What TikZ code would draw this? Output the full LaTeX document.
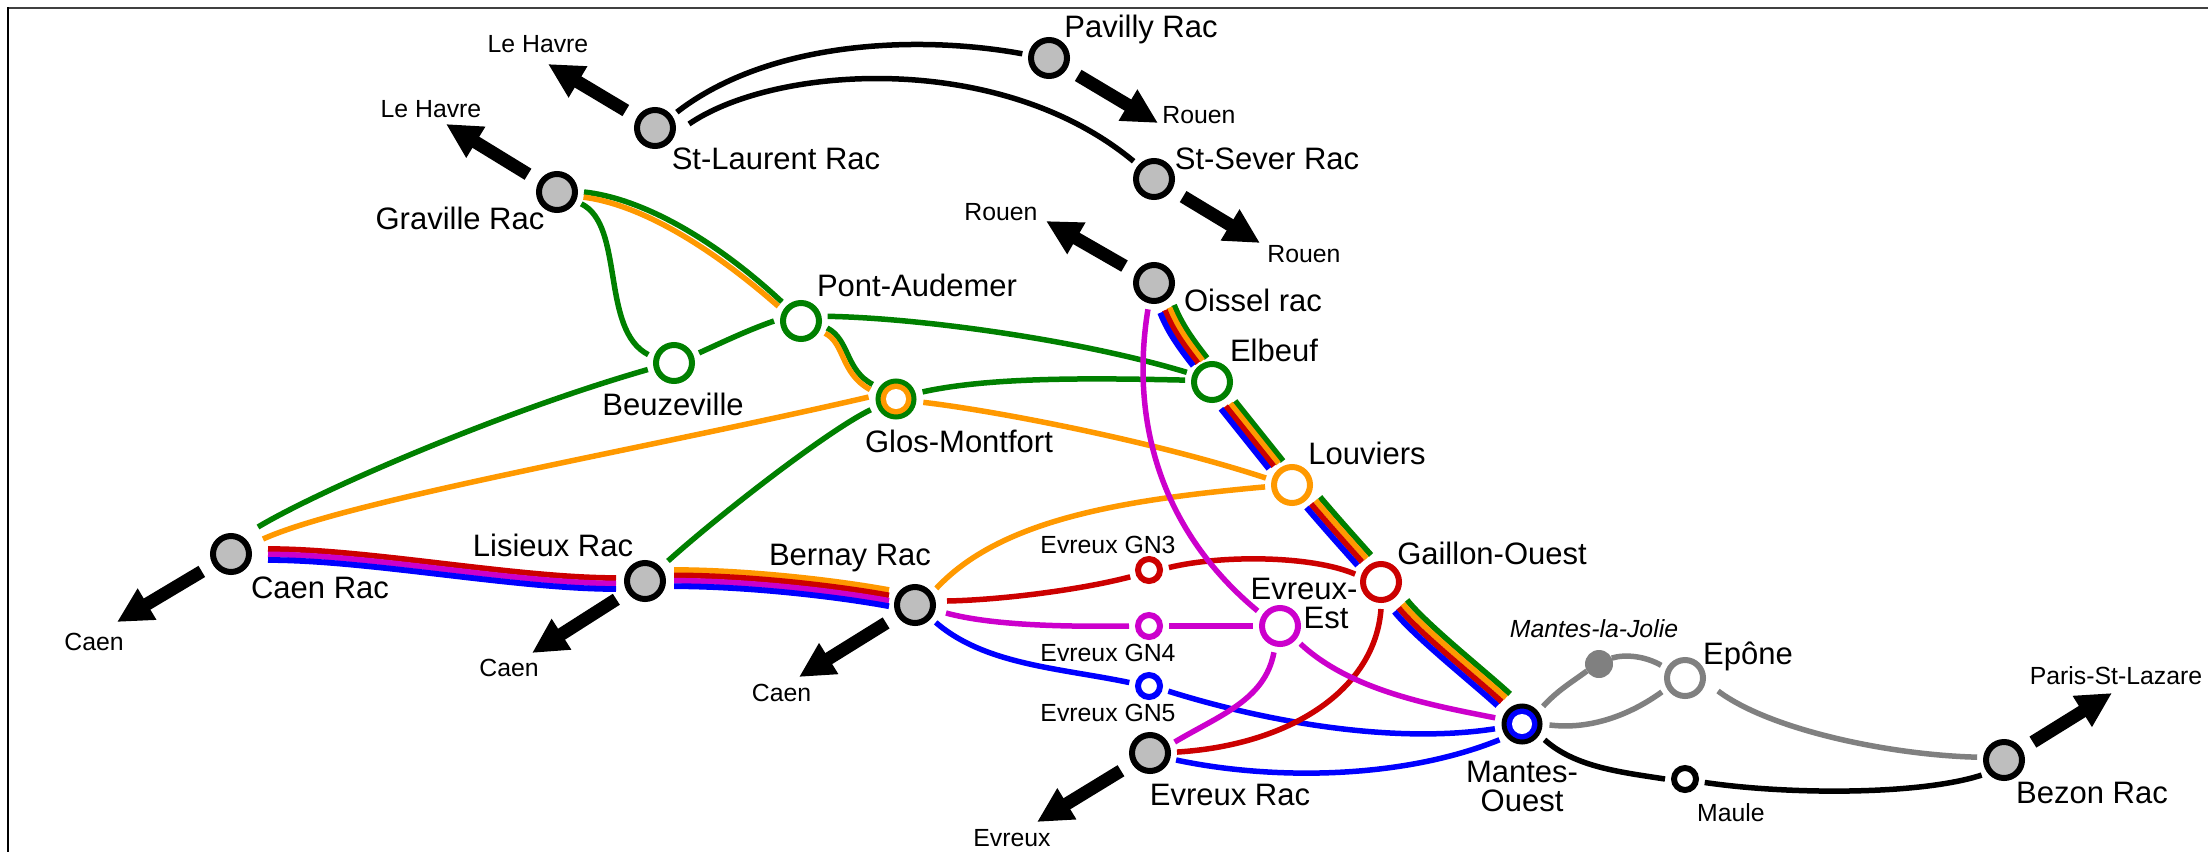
\documentclass[tikz,border=0pt]{standalone}
\usepackage{fontspec}
\setmainfont{Liberation Sans}
\usetikzlibrary{arrows.meta}
\definecolor{lgreen}{HTML}{008000}
\definecolor{lorange}{HTML}{FF9900}
\definecolor{lred}{HTML}{CC0000}
\definecolor{lmag}{HTML}{CC00CC}
\definecolor{lblue}{HTML}{0000FF}
\definecolor{lgray}{HTML}{808080}
\definecolor{stnfill}{HTML}{BEBEBE}
\tikzset{
  base/.style={circle,inner sep=0pt,outer sep=9pt,line width=6pt,minimum size=36pt,draw=#1,fill=white},
  racc/.style={base=black,fill=stnfill},
  ring/.style={base=#1},
  small/.style={base=#1,minimum size=22pt},
  inner/.style 2 args={base=#1,fill=#2,line width=5pt,minimum size=36pt,outer sep=9.5pt,
    path picture={\fill[white] (path picture bounding box.center) circle (10pt);}},
  joint/.style={circle,inner sep=0pt,outer sep=0pt,minimum size=28pt,fill=lgray},
  ln/.style={line width=5.5pt,#1,line cap=butt},
  bd/.style={line width=5.8pt,#1,line cap=butt},
  exit/.style={line width=13pt,black,shorten <=7pt,-{Triangle[length=35pt,width=34pt]}},
  big/.style={inner sep=0pt,font=\fontsize{31}{31}\selectfont,text height=25pt,text depth=6pt},
  lab/.style={inner sep=0pt,font=\fontsize{24.8}{24.8}\selectfont,text height=21pt,text depth=5pt},
}
\begin{document}
\begin{tikzpicture}[x=1pt,y=-1pt]
\useasboundingbox (0,0) rectangle (2208,852);
\fill[white] (0,0) rectangle (2208,852);
\draw[line width=2pt,black!75] (7,7.5) -- (2208,7.5);
\draw[line width=2pt,black] (8,7) -- (8,852);
% stations
\node[racc] (stl) at (655,128) {};
\node[racc] (gra) at (557,192) {};
\node[racc] (pav) at (1049,58) {};
\node[racc] (sts) at (1154,179) {};
\node[racc] (ois) at (1154,283) {};
\node[racc] (cae) at (231,554) {};
\node[racc] (lis) at (645,581) {};
\node[racc] (ber) at (915,605) {};
\node[racc] (evr) at (1150,753) {};
\node[racc] (bez) at (2004,760) {};
\node[ring=lgreen] (beu) at (674,363) {};
\node[ring=lgreen] (pon) at (801,321) {};
\node[ring=lgreen] (elb) at (1212,382) {};
\node[ring=lorange] (lou) at (1292,485) {};
\node[ring=lred] (gai) at (1381,582) {};
\node[ring=lmag] (ees) at (1280,626) {};
\node[ring=lgray] (epo) at (1685,678) {};
\node[small=lred] (gn3) at (1149,570) {};
\node[small=lmag] (gn4) at (1149,626) {};
\node[small=lblue] (gn5) at (1149,686) {};
\node[small=black] (mau) at (1685,779) {};
\node[inner={lgreen}{lorange}] (glo) at (896,399) {};
\node[inner={black}{lblue}] (man) at (1522,724) {};
\node[joint] (jol) at (1599,664) {};
% exits
\coordinate (t1) at (548,64);
\coordinate (t2) at (446,124);
\coordinate (t3) at (1158,123);
\coordinate (t4) at (1260,243);
\coordinate (t5) at (1046,221);
\coordinate (t6) at (117,622);
\coordinate (t7) at (532,653);
\coordinate (t8) at (799,677);
\coordinate (t9) at (1037,822);
\coordinate (t10) at (2112,693);
\draw[exit] (stl) -- (t1);
\draw[exit] (gra) -- (t2);
\draw[exit] (pav) -- (t3);
\draw[exit] (sts) -- (t4);
\draw[exit] (ois) -- (t5);
\draw[exit] (cae) -- (t6);
\draw[exit] (lis) -- (t7);
\draw[exit] (ber) -- (t8);
\draw[exit] (evr) -- (t9);
\draw[exit] (bez) -- (t10);
% black arcs
\draw[ln=black] (stl.36) .. controls (770,40) and (920,35) .. (pav.171);
\draw[ln=black] ([shift={(34,-4)}]stl.center) .. controls (775,65) and (1000,50) .. (sts.139);
% green & orange west
\draw[ln=lgreen] (gra.0) .. controls (640,198) and (712,237) .. (pon.135);
\draw[ln=lorange] (gra.-11) .. controls (637,204) and (705,242) .. (pon.147);
\draw[ln=lgreen] (gra.-26) .. controls (625,225) and (600,330) .. (beu.162);
\draw[ln=lgreen] (beu.22) .. controls (723,342) and (748,330) .. (pon.180);
\draw[ln=lgreen] (pon.10) .. controls (920,318) and (1080,340) .. (elb.159);
\draw[ln=lgreen] (pon.-15) .. controls (850,340) and (845,370) .. (glo.148);
\draw[ln=lorange] (pon.-27) .. controls (845,343) and (840,373) .. (glo.160);
\draw[ln=lgreen] (glo.15) .. controls (990,377) and (1090,378) .. (elb.176);
\draw[ln=lorange] (glo.-7) .. controls (990,410) and (1150,440) .. (lou.165);
\draw[ln=lorange] ([shift={(32,-15)}]cae.center) .. controls (350,500) and (640,450) .. (glo.176);
\draw[ln=lgreen] ([shift={(27,-27)}]cae.center) .. controls (320,490) and (500,412) .. (beu.194);
\draw[ln=lgreen] ([shift={(23,-20)}]lis.center) .. controls (718,516) and (827,431) .. (glo.203);
% Caen - Lisieux bundle
\foreach \c/\k in {lred/0,lmag/1,lblue/2}
  \draw[bd=\c] ([shift={(37,-5+5.5*\k)}]cae.center) .. controls +(100,0) and +(-100,0) .. ([shift={(-29,-3+5.5*\k)}]lis.center);
% Lisieux - Bernay bundle
\foreach \c/\k in {lorange/0,lred/1,lmag/2,lblue/3}
  \draw[bd=\c] ([shift={(29,-11+5.4*\k)}]lis.center) .. controls +(66,0) and +(-60,-11) .. ([shift={(-26,-15+5.4*\k)}]ber.center);
% Oissel - Mantes bundle
\foreach \c/\k in {lgreen/0,lorange/1,lred/2,lblue/3}{
  \draw[bd=\c] ([shift={(20-4.6*\k,22+2.6*\k)}]ois.center) .. controls +(8,20) and +(-14,-18) .. ([shift={(-5-4.6*\k,-24+2.6*\k)}]elb.center);
  \draw[bd=\c] ([shift={(23-4.7*\k,19+2.6*\k)}]elb.center) -- ([shift={(-9-4.7*\k,-24+2.6*\k)}]lou.center);
  \draw[bd=\c] ([shift={(28-4.5*\k,12+3.5*\k)}]lou.center) .. controls +(17,20) and +(-17,-19) .. ([shift={(-10-4.5*\k,-27+3.5*\k)}]gai.center);
  \draw[bd=\c] ([shift={(26-4.2*\k,18+3.9*\k)}]gai.center) .. controls +(20,25) and +(-25,-23) .. ([shift={(-12-4.2*\k,-30+3.9*\k)}]man.center);
}
% Bernay branches
\draw[ln=lorange] (ber.38) .. controls (1000,520) and (1120,500) .. (lou.184);
\draw[ln=lred] ([shift={(32,-4)}]ber.center) .. controls (1000,600) and (1080,590) .. (gn3.200);
\draw[ln=lred] (gn3.7) .. controls (1220,555) and (1310,555) .. (gai.163);
\draw[ln=lmag] ([shift={(31,8)}]ber.center) .. controls (990,625) and (1060,627) .. (gn4.180);
\draw[ln=lmag] (gn4.0) -- (ees.180);
\draw[ln=lblue] (ber.-40) .. controls (985,665) and (1060,668) .. (gn5.170);
\draw[ln=lblue] (gn5.-15) .. controls (1260,720) and (1390,745) .. (man.190);
\draw[ln=lblue] (evr.-15) .. controls (1270,780) and (1400,780) .. (man.215);
\draw[ln=lred] (evr.2) .. controls (1290,745) and (1375,690) .. (gai.270);
\draw[ln=lmag] (evr.24) .. controls (1220,715) and (1265,700) .. (ees.257);
\draw[ln=lmag] (ois.257) .. controls (1130,420) and (1160,530) .. (ees.146);
\draw[ln=lmag] (ees.-41) .. controls (1350,690) and (1430,705) .. (man.167);
% east
\draw[ln=lgray] (man.40) .. controls (1558,690) and (1572,682) .. (jol.210);
\draw[ln=lgray] (jol.25) .. controls (1625,654) and (1645,656) .. (epo.152);
\draw[ln=lgray] (man.-2) .. controls (1590,730) and (1630,715) .. (epo.211);
\draw[ln=lgray] ([shift={(33,13)}]epo.center) .. controls (1770,730) and (1890,755) .. (bez.174);
\draw[ln=black] (man.-35) .. controls (1575,767) and (1620,772) .. (mau.180);
\draw[ln=black] (mau.-10) .. controls (1790,795) and (1920,795) .. (bez.214);
% labels
\node[lab] (l1) at (538,44) {Le Havre};
\node[lab] (l2) at (431,109) {Le Havre};
\node[lab] (l3) at (1199,115) {Rouen};
\node[lab] (l4) at (1304,254) {Rouen};
\node[lab] (l5) at (1001,212) {Rouen};
\node[lab] (l6) at (94,642) {Caen};
\node[lab] (l7) at (509,668) {Caen};
\node[lab] (l8) at (781.5,693) {Caen};
\node[lab] (l9) at (1012,838) {Evreux};
\node[lab] (l10) at (1108,545) {Evreux GN3};
\node[lab] (l11) at (1108,653) {Evreux GN4};
\node[lab] (l12) at (1108,713) {Evreux GN5};
\node[lab] (l13) at (1594,629) {\itshape Mantes-la-Jolie};
\node[lab] (l14) at (1731,813) {Maule};
\node[lab] (l15) at (2116,676) {Paris-St-Lazare};
\node[big] (b1) at (776,160) {St-Laurent Rac};
\node[big] (b2) at (460,220) {Graville Rac};
\node[big] (b3) at (673,406) {Beuzeville};
\node[big] (b4) at (1141,28) {Pavilly Rac};
\node[big] (b5) at (1267,160) {St-Sever Rac};
\node[big] (b6) at (1253,302) {Oissel rac};
\node[big] (b7) at (1274,352) {Elbeuf};
\node[big] (b8) at (917,287) {Pont-Audemer};
\node[big] (b9) at (959,443) {Glos-Montfort};
\node[big] (b10) at (1367,455) {Louviers};
\node[big] (b11) at (1492,555) {Gaillon-Ouest};
\node[big] (b12) at (1304,590) {Evreux-};
\node[big] (b13) at (1326,619) {Est};
\node[big] (b14) at (1522,773) {Mantes-};
\node[big] (b15) at (1522,802) {Ouest};
\node[big] (b16) at (1748,655) {Epône};
\node[big] (b17) at (2092,794) {Bezon Rac};
\node[big] (b18) at (320,589) {Caen Rac};
\node[big] (b19) at (553,547) {Lisieux Rac};
\node[big] (b20) at (850,556) {Bernay Rac};
\node[big] (b21) at (1230,796) {Evreux Rac};
\end{tikzpicture}
\end{document}
